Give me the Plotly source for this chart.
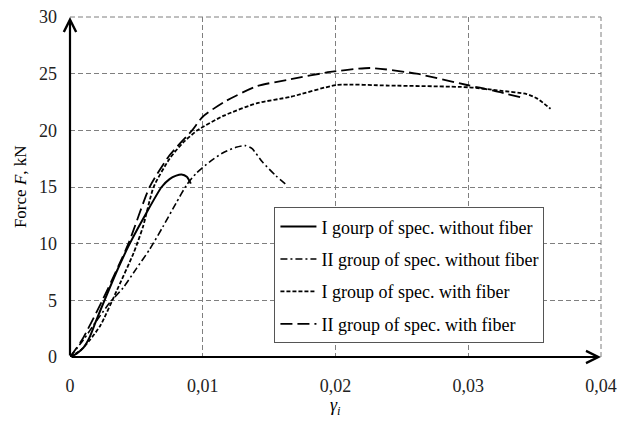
import plotly.graph_objects as go

# ---- data ----
x_I_nofib = [0, 0.0005, 0.001, 0.0015, 0.002, 0.0026, 0.0035, 0.0045, 0.0057, 0.0069, 0.0075, 0.0080, 0.0084, 0.0088, 0.0091]
y_I_nofib = [0, 0.3, 0.8, 1.8, 3.3, 5.0, 7.5, 10.0, 12.6, 15.0, 15.7, 16.0, 16.1, 15.9, 15.3]

x_II_nofib = [0, 0.001, 0.002, 0.003, 0.004, 0.005, 0.006, 0.007, 0.008, 0.0088, 0.0095, 0.0105, 0.0115, 0.0125, 0.0132, 0.0137, 0.0145, 0.0155, 0.0163]
y_II_nofib = [0, 1.5, 3.2, 4.8, 6.1, 7.8, 9.5, 11.5, 13.6, 15.2, 16.2, 17.2, 18.0, 18.5, 18.65, 18.4, 17.2, 16.0, 15.2]

x_I_fib = [0, 0.0008, 0.0015, 0.0023, 0.0035, 0.0048, 0.0055, 0.0063, 0.0075, 0.0085, 0.0096, 0.0116, 0.0141, 0.0166, 0.0201, 0.024, 0.030, 0.0324, 0.0344, 0.0352, 0.0362]
y_I_fib = [0, 0.6, 1.5, 2.8, 5.8, 9.2, 11.5, 15.0, 17.5, 18.9, 20.0, 21.3, 22.4, 22.95, 24.0, 23.95, 23.8, 23.5, 23.2, 22.8, 21.9]

x_II_fib = [0, 0.0009, 0.0024, 0.0044, 0.006, 0.0075, 0.0092, 0.010, 0.0116, 0.0141, 0.0166, 0.0196, 0.0226, 0.0261, 0.0299, 0.0319, 0.034]
y_II_fib = [0, 1.5, 4.9, 10.0, 15.0, 17.8, 20.0, 21.2, 22.5, 23.9, 24.5, 25.15, 25.5, 25.0, 24.0, 23.5, 22.9]

names = ["I gourp of spec. without fiber", "II group of spec. without fiber",
         "I group of spec. with fiber", "II group of spec. with fiber"]

x_tickvals = [0, 0.01, 0.02, 0.03, 0.04]
x_ticktext = ["0", "0,01", "0,02", "0,03", "0,04"]
y_tickvals = [0, 5, 10, 15, 20, 25, 30]

FONT = "Liberation Serif"
GRID_COLOR = "#7f7f7f"
GRID_DASH = "5px,3px"

fig = go.Figure()
series = [
    (x_I_nofib, y_I_nofib, "solid", 2),
    (x_II_nofib, y_II_nofib, "7px,3px,2px,3px", 1.6),
    (x_I_fib, y_I_fib, "4px,2px", 1.8),
    (x_II_fib, y_II_fib, "12px,5px", 1.8),
]
for i, ((xs, ys, dash, w), nm) in enumerate(zip(series, names)):
    fig.add_trace(go.Scatter(x=xs, y=ys, mode="lines", name=nm, legendgroup=str(i),
                             line=dict(color="black", width=w, dash=dash, shape="spline", smoothing=0.6)))

grid = dict(showgrid=True, gridcolor=GRID_COLOR, gridwidth=1, griddash=GRID_DASH,
            zeroline=False, showline=False, ticks="", automargin=False,
            ticklabeloverflow="allow",
            tickfont=dict(family=FONT, size=18, color="#222"))

fig.update_xaxes(range=[0, 0.04], tickvals=x_tickvals, ticktext=x_ticktext,
                 ticklabelstandoff=16, **grid)
fig.update_yaxes(range=[0, 30], tickvals=y_tickvals, ticklabelstandoff=12, **grid)

# grid lines on the outer edges (right and top of the plot area)
fig.add_shape(type="line", xref="paper", yref="paper", x0=1, x1=1, y0=0, y1=1,
              line=dict(color=GRID_COLOR, width=1, dash=GRID_DASH), layer="below")
fig.add_shape(type="line", xref="paper", yref="paper", x0=0, x1=1, y0=1, y1=1,
              line=dict(color=GRID_COLOR, width=1, dash=GRID_DASH), layer="below")

# axis lines with arrow heads
fig.add_annotation(x=0.04, y=0, ax=0, ay=0, xref="x", yref="y", axref="x", ayref="y",
                   showarrow=True, arrowhead=5, arrowsize=1.1, arrowwidth=2.2,
                   arrowcolor="black", standoff=0, startstandoff=0, text="")
fig.add_annotation(x=0, y=30, ax=0, ay=0, xref="x", yref="y", axref="x", ayref="y",
                   showarrow=True, arrowhead=5, arrowsize=1.1, arrowwidth=2.2,
                   arrowcolor="black", standoff=0, startstandoff=0, text="")

# axis titles
fig.add_annotation(x=0.5, y=-0.145, xref="paper", yref="paper", showarrow=False,
                   text="<i>γ<sub>i</sub></i>", font=dict(family=FONT, size=18, color="black"),
                   yanchor="middle")
fig.add_annotation(x=-0.094, y=0.5, xref="paper", yref="paper", showarrow=False, textangle=-90,
                   text="Force <i>F</i>, kN", font=dict(family=FONT, size=17, color="black"),
                   xanchor="center")

# the page body has an 8px margin, so the figure is sized/offset to compensate
fig.update_layout(
    width=621, height=417,
    margin=dict(l=62, r=28, t=9, b=68, autoexpand=False),
    plot_bgcolor="white", paper_bgcolor="white",
    font=dict(family=FONT, size=18, color="black"),
    showlegend=True,
    legend=dict(x=0.385, y=0.44, xanchor="left", yanchor="top",
                bgcolor="white", bordercolor="#555", borderwidth=1,
                traceorder="grouped", tracegroupgap=6, itemwidth=36,
                font=dict(family=FONT, size=18, color="black")),
)

fig.write_html("out.html")
